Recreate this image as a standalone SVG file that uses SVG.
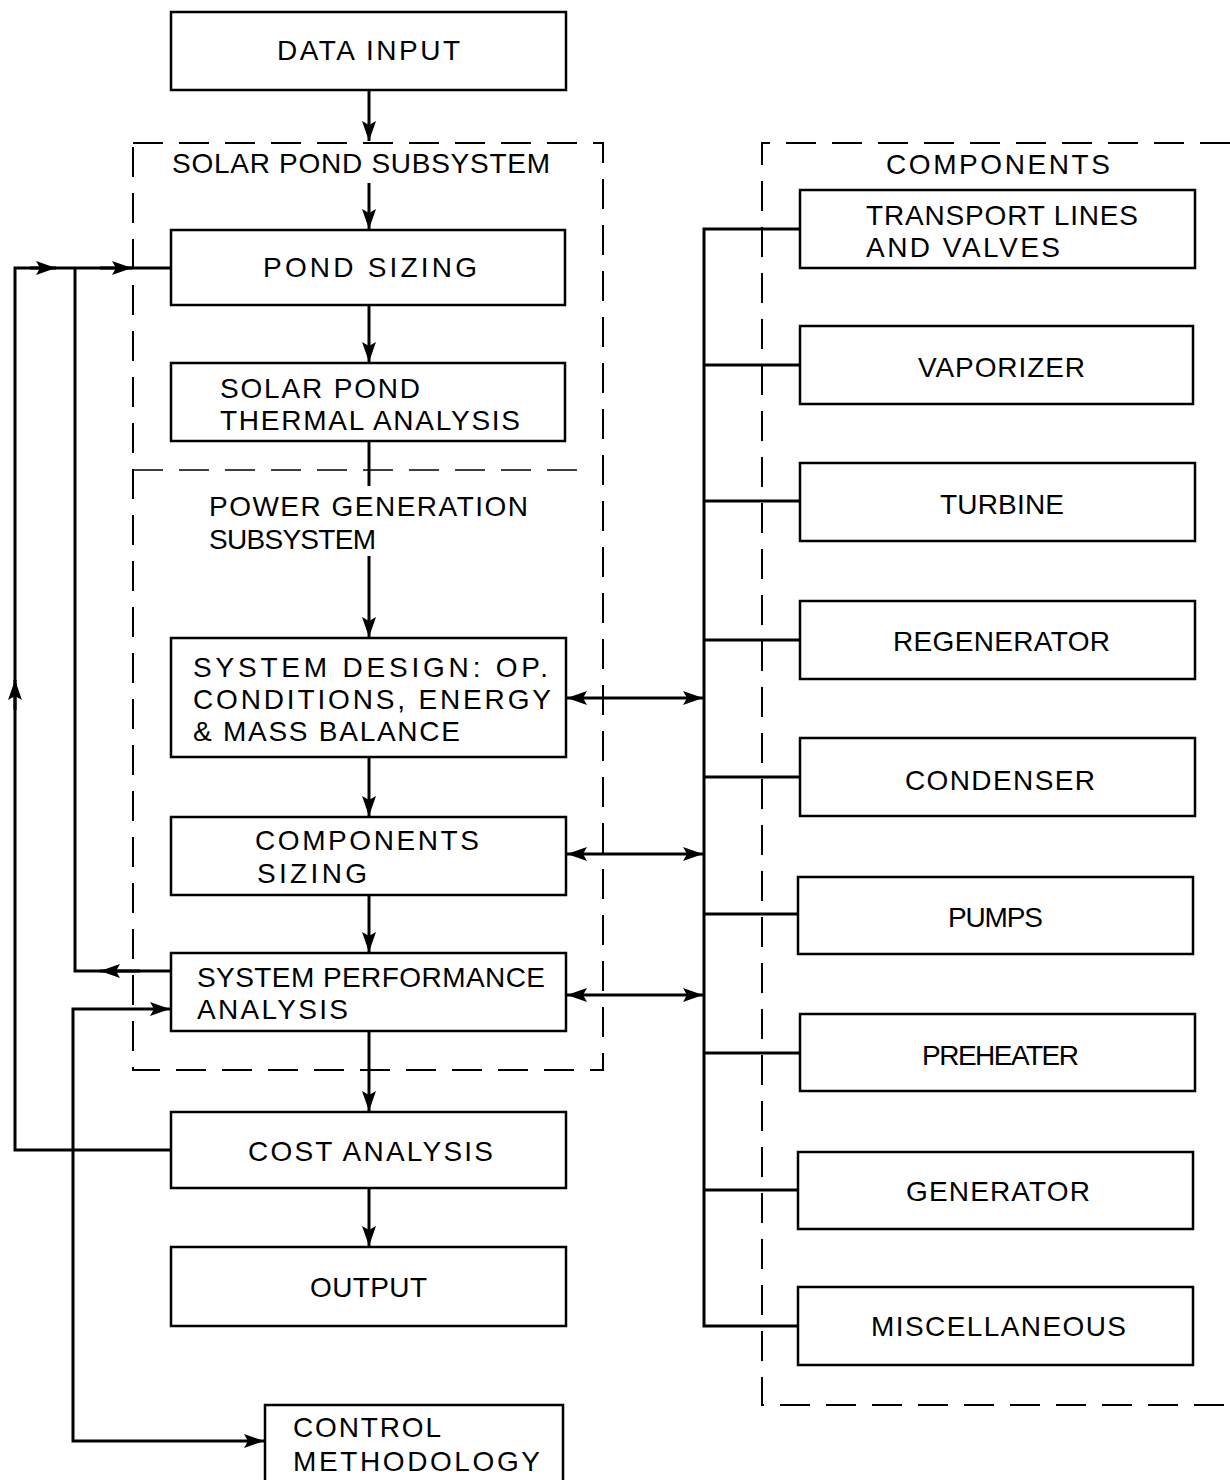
<svg xmlns="http://www.w3.org/2000/svg" width="1230" height="1480" viewBox="0 0 1230 1480">
<defs>
<marker id="ah" viewBox="0 0 20 14" refX="20" refY="7" markerWidth="20" markerHeight="14" markerUnits="userSpaceOnUse" orient="auto-start-reverse">
<path d="M0,0 L20,7 L0,14 L4,7 Z" fill="#000"/>
</marker>
<style>
.box{fill:#fff;stroke:#000;stroke-width:2.5}
.dash{fill:none;stroke:#000;stroke-width:2;stroke-dasharray:30 16}
.ln{fill:none;stroke:#000;stroke-width:3}
.t{font-family:"Liberation Sans",Arial,sans-serif;font-size:28px;fill:#000}
</style>
</defs>
<rect width="1230" height="1480" fill="#fff"/>

<g id="subsystem-frames">
<rect class="dash" x="133" y="143" width="470" height="927"/>
<line class="dash" x1="133" y1="470" x2="592" y2="470" style="stroke-width:1.5"/>
<path class="dash" d="M1230,143 H762 V1405 H1230"/>
<text class="t" x="172" y="173" textLength="378" lengthAdjust="spacing">SOLAR POND SUBSYSTEM</text>
<text class="t" x="209" y="516" textLength="319" lengthAdjust="spacing">POWER GENERATION</text>
<text class="t" x="209" y="549" textLength="167" lengthAdjust="spacing">SUBSYSTEM</text>
<text class="t" x="886" y="174" textLength="224" lengthAdjust="spacing">COMPONENTS</text>
</g>

<g id="connectors">
<line class="ln" x1="369" y1="90" x2="369" y2="141" marker-end="url(#ah)"/>
<line class="ln" x1="369" y1="183" x2="369" y2="229" marker-end="url(#ah)"/>
<line class="ln" x1="369" y1="305" x2="369" y2="362" marker-end="url(#ah)"/>
<line class="ln" x1="369" y1="441" x2="369" y2="486"/>
<line class="ln" x1="369" y1="556" x2="369" y2="637" marker-end="url(#ah)"/>
<line class="ln" x1="369" y1="757" x2="369" y2="816" marker-end="url(#ah)"/>
<line class="ln" x1="369" y1="895" x2="369" y2="952" marker-end="url(#ah)"/>
<line class="ln" x1="369" y1="1031" x2="369" y2="1111" marker-end="url(#ah)"/>
<line class="ln" x1="369" y1="1188" x2="369" y2="1246" marker-end="url(#ah)"/>
<path class="ln" d="M171,1150 H15 V268 H171"/>
<line class="ln" x1="15" y1="710" x2="15" y2="680" marker-end="url(#ah)"/>
<line class="ln" x1="30" y1="268" x2="56" y2="268" marker-end="url(#ah)"/>
<line class="ln" x1="100" y1="268" x2="132" y2="268" marker-end="url(#ah)"/>
<path class="ln" d="M171,971 H75 V268"/>
<line class="ln" x1="140" y1="971" x2="100" y2="971" marker-end="url(#ah)"/>
<path class="ln" d="M170,1009 H73 V1441 H264" marker-start="url(#ah)" marker-end="url(#ah)"/>
<line class="ln" x1="567" y1="698" x2="703" y2="698" marker-start="url(#ah)" marker-end="url(#ah)"/>
<line class="ln" x1="567" y1="854" x2="703" y2="854" marker-start="url(#ah)" marker-end="url(#ah)"/>
<line class="ln" x1="567" y1="995" x2="703" y2="995" marker-start="url(#ah)" marker-end="url(#ah)"/>
<path class="ln" d="M800,229 H704 V1326 H800"/>
<line class="ln" x1="704" y1="365" x2="800" y2="365"/>
<line class="ln" x1="704" y1="501" x2="800" y2="501"/>
<line class="ln" x1="704" y1="640" x2="800" y2="640"/>
<line class="ln" x1="704" y1="777" x2="800" y2="777"/>
<line class="ln" x1="704" y1="914" x2="798" y2="914"/>
<line class="ln" x1="704" y1="1053" x2="800" y2="1053"/>
<line class="ln" x1="704" y1="1190" x2="798" y2="1190"/>
</g>

<g id="data-input"><rect class="box" x="171" y="12" width="395" height="78"/><text class="t" x="277" y="60" textLength="183" lengthAdjust="spacing">DATA INPUT</text></g>
<g id="pond-sizing"><rect class="box" x="171" y="230" width="394" height="75"/><text class="t" x="263" y="277" textLength="214" lengthAdjust="spacing">POND SIZING</text></g>
<g id="thermal-analysis"><rect class="box" x="171" y="363" width="394" height="78"/><text class="t" x="220" y="398" textLength="200" lengthAdjust="spacing">SOLAR POND</text><text class="t" x="220" y="430" textLength="300" lengthAdjust="spacing">THERMAL ANALYSIS</text></g>
<g id="system-design"><rect class="box" x="171" y="638" width="395" height="119"/><text class="t" x="193" y="677" textLength="355" lengthAdjust="spacing">SYSTEM DESIGN: OP.</text><text class="t" x="193" y="709" textLength="358" lengthAdjust="spacing">CONDITIONS, ENERGY</text><text class="t" x="193" y="741" textLength="267" lengthAdjust="spacing">&amp; MASS BALANCE</text></g>
<g id="components-sizing"><rect class="box" x="171" y="817" width="395" height="78"/><text class="t" x="255" y="850" textLength="224" lengthAdjust="spacing">COMPONENTS</text><text class="t" x="257" y="883" textLength="110" lengthAdjust="spacing">SIZING</text></g>
<g id="performance"><rect class="box" x="171" y="953" width="395" height="78"/><text class="t" x="197" y="987" textLength="348" lengthAdjust="spacing">SYSTEM PERFORMANCE</text><text class="t" x="197" y="1019" textLength="151" lengthAdjust="spacing">ANALYSIS</text></g>
<g id="cost-analysis"><rect class="box" x="171" y="1112" width="395" height="76"/><text class="t" x="248" y="1161" textLength="245" lengthAdjust="spacing">COST ANALYSIS</text></g>
<g id="output"><rect class="box" x="171" y="1247" width="395" height="79"/><text class="t" x="310" y="1297" textLength="117" lengthAdjust="spacing">OUTPUT</text></g>
<g id="control"><rect class="box" x="265" y="1405" width="298" height="90"/><text class="t" x="293" y="1437" textLength="148" lengthAdjust="spacing">CONTROL</text><text class="t" x="293" y="1471" textLength="247" lengthAdjust="spacing">METHODOLOGY</text></g>

<g id="transport"><rect class="box" x="800" y="190" width="395" height="78"/><text class="t" x="866" y="225" textLength="272" lengthAdjust="spacing">TRANSPORT LINES</text><text class="t" x="866" y="257" textLength="194" lengthAdjust="spacing">AND VALVES</text></g>
<g id="vaporizer"><rect class="box" x="800" y="326" width="393" height="78"/><text class="t" x="918" y="377" textLength="167" lengthAdjust="spacing">VAPORIZER</text></g>
<g id="turbine"><rect class="box" x="800" y="463" width="395" height="78"/><text class="t" x="940" y="514" textLength="124" lengthAdjust="spacing">TURBINE</text></g>
<g id="regenerator"><rect class="box" x="800" y="601" width="395" height="78"/><text class="t" x="893" y="651" textLength="217" lengthAdjust="spacing">REGENERATOR</text></g>
<g id="condenser"><rect class="box" x="800" y="738" width="395" height="78"/><text class="t" x="905" y="790" textLength="190" lengthAdjust="spacing">CONDENSER</text></g>
<g id="pumps"><rect class="box" x="798" y="877" width="395" height="77"/><text class="t" x="948" y="927" textLength="95" lengthAdjust="spacing">PUMPS</text></g>
<g id="preheater"><rect class="box" x="800" y="1014" width="395" height="77"/><text class="t" x="922" y="1065" textLength="157" lengthAdjust="spacing">PREHEATER</text></g>
<g id="generator"><rect class="box" x="798" y="1152" width="395" height="77"/><text class="t" x="906" y="1201" textLength="184" lengthAdjust="spacing">GENERATOR</text></g>
<g id="miscellaneous"><rect class="box" x="798" y="1287" width="395" height="78"/><text class="t" x="871" y="1336" textLength="255" lengthAdjust="spacing">MISCELLANEOUS</text></g>
</svg>
